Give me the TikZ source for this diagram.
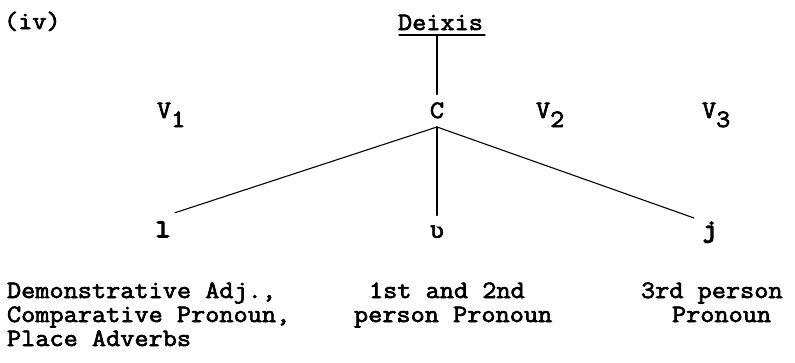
\documentclass[tikz,border=0pt]{standalone}
\usepackage{fontspec}
\setmainfont{Latin Modern Mono}[FakeStretch=1.1, FakeBold=2.6]
\newfontfamily\boldmono{Latin Modern Mono}[FakeStretch=1.1, FakeBold=6]
\newfontfamily\hookfont{DejaVu Sans Mono}[FakeBold=2]
\begin{document}
\begin{tikzpicture}[x=1pt,y=-1pt,
  txt/.style={inner sep=0pt, outer sep=0pt, font=\fontsize{25}{25}\selectfont},
  boldtxt/.style={inner sep=0pt, outer sep=0pt, font=\fontsize{25}{25}\selectfont\boldmono},
  conn/.style={line width=1.1pt, line cap=round}]
\useasboundingbox (0,0) rectangle (795,362);
\node[txt,anchor=base west] (iv) at (4,29) {(iv)};
\node[txt,anchor=base west] (deixis) at (398,30) {Deixis};
\draw[conn] ([xshift=1pt,yshift=-5pt]deixis.base west) -- ([xshift=2pt,yshift=-5pt]deixis.base east);
\node[txt,anchor=base] (c) at (437,118) {C};
\draw[conn] ([yshift=-5pt]deixis.base -| c.north) -- ([yshift=8pt]c.north);
\coordinate (apex) at ([yshift=-9pt]c.base);
\node[txt,anchor=base west] (v1) at (157,118) {V\raisebox{-9pt}{1}};
\node[txt,anchor=base west] (v2) at (536,118) {V\raisebox{-9pt}{2}};
\node[txt,anchor=base west] (v3) at (702,118) {V\raisebox{-9pt}{3}};
\node[boldtxt,anchor=base] (l) at (163,237) {l};
\node[inner sep=0pt,outer sep=0pt,font=\fontsize{23}{23}\selectfont\hookfont,anchor=base] (u) at (437,238) {ʋ};
\node[boldtxt,anchor=base] (j) at (710,237) {j};
\draw[conn] (apex) -- ([xshift=12pt,yshift=9pt]l.north);
\draw[conn] (apex) -- ([yshift=10pt]u.north);
\draw[conn] (apex) -- ([xshift=-16pt,yshift=4pt]j.north);
\node[txt,anchor=base west] (a1) at (7,298) {Demonstrative Adj.,};
\node[txt,anchor=base west] (a2) at (7,322) {Comparative Pronoun,};
\node[txt,anchor=base west] (a3) at (7,346) {Place Adverbs};
\node[txt,anchor=base west] (b1) at (369,298) {1st and 2nd};
\node[txt,anchor=base west] (b2) at (354,322) {person Pronoun};
\node[txt,anchor=base west] (c1) at (641,298) {3rd person};
\node[txt,anchor=base west] (c2) at (672,322) {Pronoun};
\end{tikzpicture}
\end{document}
